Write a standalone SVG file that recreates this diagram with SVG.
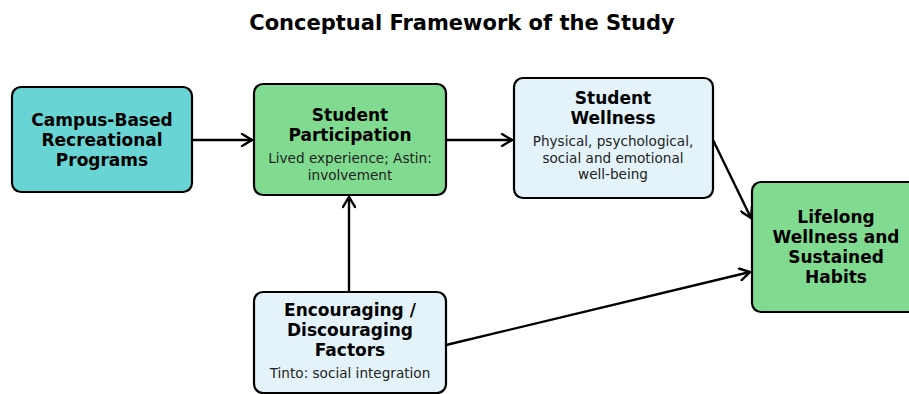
<svg xmlns="http://www.w3.org/2000/svg" width="909" height="394" viewBox="0 0 909 394">
<defs>
<marker id="arr" viewBox="-12 -7 14 14" refX="0" refY="0" markerWidth="14" markerHeight="14" markerUnits="userSpaceOnUse" orient="auto">
<path d="M-10,-6 L0,0 L-10,6" fill="none" stroke="#000" stroke-width="2.4" stroke-linecap="round"/>
</marker>
<style>
.box{stroke:#000;stroke-width:2.2}
.teal{fill:#69d4d4}
.green{fill:#80db90}
.light{fill:#e3f3f9}
.t{font-family:"DejaVu Sans",sans-serif;font-weight:bold;font-size:17px;text-anchor:middle;fill:#000}
.s{font-family:"DejaVu Sans",sans-serif;font-size:13.6px;text-anchor:middle;fill:#222}
.title{font-family:"DejaVu Sans",sans-serif;font-weight:bold;font-size:21px;text-anchor:middle;fill:#000}
.c{stroke:#000;stroke-width:2.4;fill:none;marker-end:url(#arr)}
</style>
</defs>
<rect width="909" height="394" fill="#fff"/>
<text class="title" x="462" y="30">Conceptual Framework of the Study</text>
<g id="connectors">
<line class="c" x1="192" y1="140" x2="252" y2="140"/>
<line class="c" x1="446" y1="140" x2="512" y2="140"/>
<line class="c" x1="713" y1="140" x2="751" y2="218"/>
<line class="c" x1="349" y1="292" x2="349" y2="197"/>
<line class="c" x1="446" y1="345" x2="750" y2="272"/>
</g>
<g id="campus">
<rect class="box teal" x="12" y="87" width="180" height="105" rx="9"/>
<text class="t" x="102" y="126">Campus-Based</text>
<text class="t" x="102" y="146">Recreational</text>
<text class="t" x="102" y="166">Programs</text>
</g>
<g id="participation">
<rect class="box green" x="254" y="84" width="192" height="111" rx="9"/>
<text class="t" x="350" y="121">Student</text>
<text class="t" x="350" y="141">Participation</text>
<text class="s" x="350" y="163">Lived experience; Astin:</text>
<text class="s" x="350" y="180">involvement</text>
</g>
<g id="wellness">
<rect class="box light" x="514" y="78" width="199" height="120" rx="9"/>
<text class="t" x="613" y="104">Student</text>
<text class="t" x="613" y="124">Wellness</text>
<text class="s" x="613" y="146">Physical, psychological,</text>
<text class="s" x="613" y="163">social and emotional</text>
<text class="s" x="613" y="179">well-being</text>
</g>
<g id="lifelong">
<rect class="box green" x="752" y="182" width="170" height="130" rx="9"/>
<text class="t" x="836" y="223">Lifelong</text>
<text class="t" x="836" y="243">Wellness and</text>
<text class="t" x="836" y="263">Sustained</text>
<text class="t" x="836" y="283">Habits</text>
</g>
<g id="factors">
<rect class="box light" x="254" y="292" width="192" height="101" rx="9"/>
<text class="t" x="350" y="316">Encouraging /</text>
<text class="t" x="350" y="336">Discouraging</text>
<text class="t" x="350" y="356">Factors</text>
<text class="s" x="350" y="378">Tinto: social integration</text>
</g>
</svg>
